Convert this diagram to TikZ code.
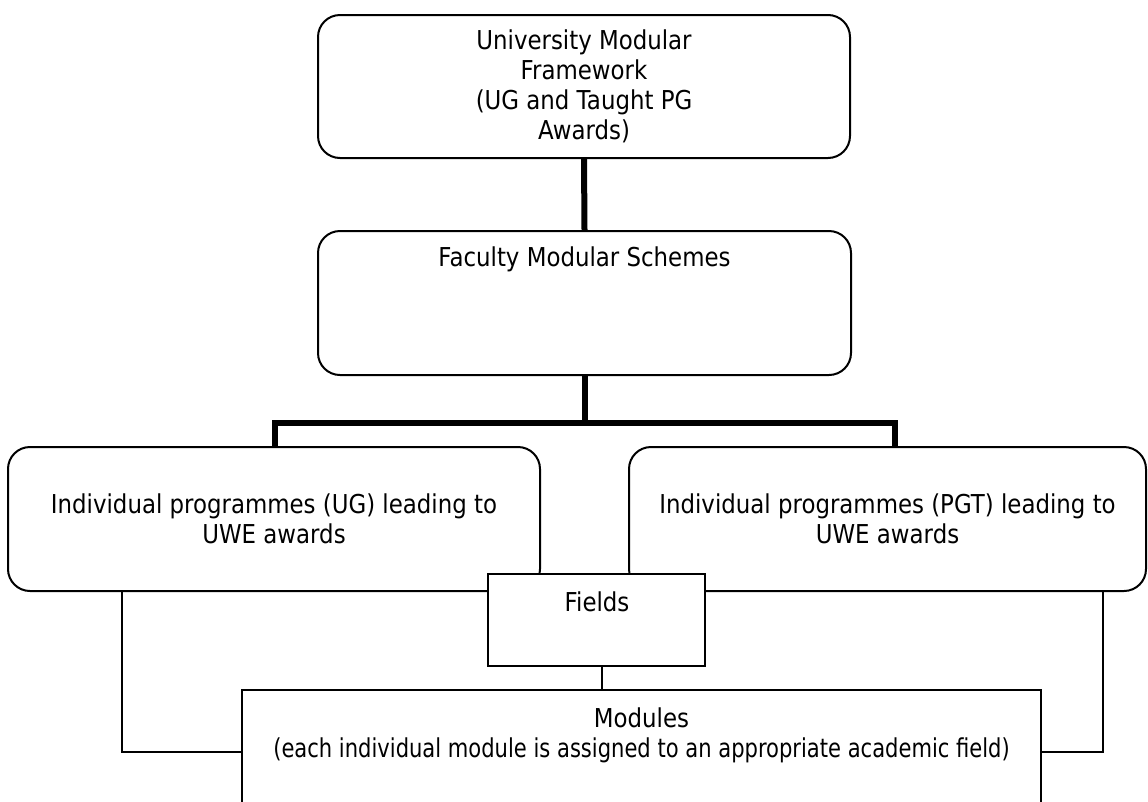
\documentclass[tikz,border=0pt]{standalone}
\usepackage{fontspec}
\setmainfont{DejaVu Sans}[FakeStretch=0.88]
\newfontfamily\narrowsans{DejaVu Sans}[FakeStretch=0.81]
\begin{document}
\begin{tikzpicture}[x=1pt,y=-1pt,
  rbox/.style={draw, line width=2pt, rounded corners=22pt, fill=white, inner sep=0pt},
  sbox/.style={draw, line width=2.2pt, fill=white, inner sep=0pt},
  thickconn/.style={line width=6pt},
  thinconn/.style={line width=2pt},
  txt/.style={font=\fontsize{26}{30}\selectfont, align=center, inner sep=0pt}]
\useasboundingbox (0,0) rectangle (1148,801);
\clip (0,0) rectangle (1148,801);

% coordinates for connector corners
\coordinate (barL) at (275,423);
\coordinate (barR) at (895,423);
\coordinate (legL) at (122,752);
\coordinate (legR) at (1103,752);

% boxes
\node[rbox, minimum width=532pt, minimum height=143pt] (top) at (584,86.5) {};
\node[txt] (toptxt) at (top.center) {University Modular\\Framework\\(UG and Taught PG\\Awards)};

\node[rbox, minimum width=533pt, minimum height=144pt] (box2) at (584.5,303) {};
\node[txt, anchor=north] (box2txt) at (584.5,247) {Faculty Modular Schemes};

% thick connectors
\draw[thickconn] (top.south) -- (box2.north);
\draw[thickconn] (box2.south) -- (box2.south |- barL);

\node[rbox, minimum width=532pt, minimum height=144pt] (left) at (274,519) {};
\node[txt] (lefttxt) at (left.center) {Individual programmes (UG) leading to\\UWE awards};

\node[rbox, minimum width=517pt, minimum height=144pt] (right) at (887.5,519) {};
\node[txt] (righttxt) at (right.center) {Individual programmes (PGT) leading to\\UWE awards};

\draw[thickconn] (left.north -| barL) -- (barL) -- (barR) -- (barR |- right.north);

% fields and modules
\node[sbox, minimum width=217pt, minimum height=92pt] (fields) at (596.5,620) {};
\node[txt, anchor=north] (fieldstxt) at (597,592) {Fields};

\node[sbox, minimum width=799pt, minimum height=150pt] (modules) at (641.5,765) {};
\node[txt, anchor=north] (modulestxt) at (641.5,708) {Modules\\{\narrowsans (each individual module is assigned to an appropriate academic field)}};

% thin connectors
\draw[thinconn] ([xshift=5.5pt]fields.south) -- ([xshift=5.5pt]fields.south |- modules.north);
\draw[thinconn] (left.south -| legL) -- (legL) -- (legL -| modules.west);
\draw[thinconn] (right.south -| legR) -- (legR) -- (legR -| modules.east);
\end{tikzpicture}
\end{document}
